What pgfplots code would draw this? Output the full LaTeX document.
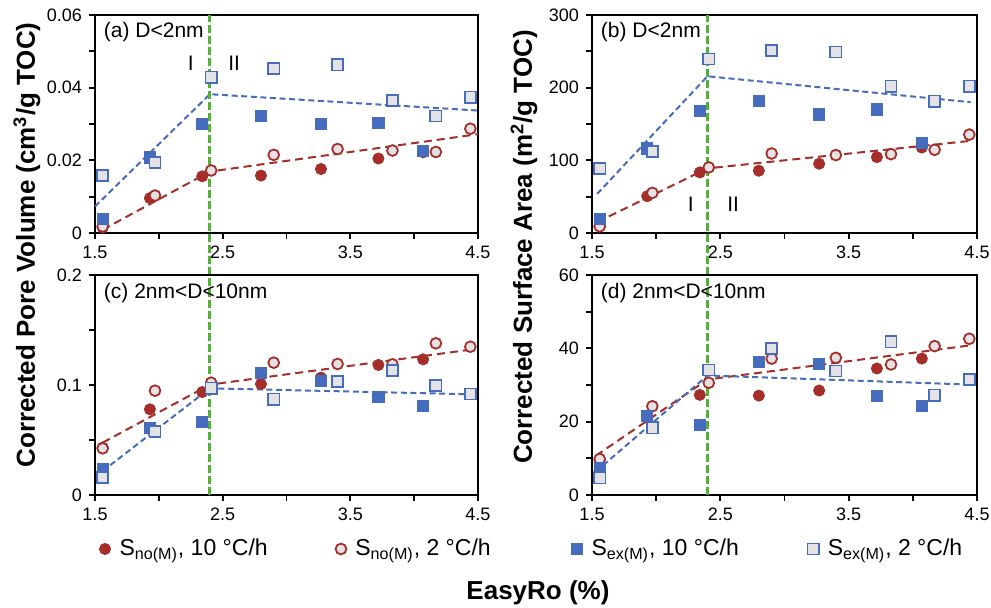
\documentclass[border=0pt]{standalone}
\usepackage{fontspec}
\setmainfont{Liberation Sans}
\usepackage{pgfplots}
\usepackage{pgfplotstable}
\pgfplotsset{compat=1.18}

\definecolor{noRed}{RGB}{166,46,42}
\definecolor{exBlue}{RGB}{70,108,190}
\definecolor{openFill}{RGB}{228,226,228}
\definecolor{stageGreen}{RGB}{82,178,52}

% 10 C/h samples
\pgfplotstableread{
x    a_no   a_ex   b_no  b_ex  c_no   c_ex   d_no d_ex
1.56 0.0015 0.0039 10.0  19.6  0.0430 0.0233 9.5  7.3
1.93 0.0096 0.0208 50.6  116.3 0.0779 0.0612 21.0 21.5
2.34 0.0156 0.0300 83.4  167.8 0.0936 0.0661 27.3 19.2
2.80 0.0158 0.0323 85.7  181.5 0.1009 0.1112 27.1 36.3
3.27 0.0176 0.0300 95.3  163.2 0.1067 0.1039 28.5 35.8
3.72 0.0205 0.0302 104.4 170.1 0.1182 0.0894 34.5 27.1
4.07 0.0222 0.0226 117.6 123.6 0.1233 0.0812 37.2 24.2
}\fastrate

% 2 C/h samples
\pgfplotstableread{
x    a_no   a_ex   b_no  b_ex  c_no   c_ex   d_no d_ex
1.56 0.0018 0.0158 9.1   88.9  0.0424 0.0158 9.8  4.7
1.97 0.0103 0.0194 55.2  112.2 0.0948 0.0576 24.2 18.3
2.41 0.0172 0.0429 90.3  239.4 0.1021 0.0970 30.6 34.1
2.90 0.0215 0.0453 109.4 251.3 0.1203 0.0870 37.2 40.0
3.40 0.0231 0.0463 107.2 249.0 0.1191 0.1030 37.4 33.8
3.83 0.0227 0.0365 108.5 202.0 0.1188 0.1130 35.6 41.8
4.17 0.0223 0.0322 114.5 181.5 0.1379 0.0994 40.6 27.2
4.44 0.0287 0.0374 135.4 202.0 0.1348 0.0918 42.6 31.5
}\slowrate

\tikzset{paneltext/.style={font=\fontsize{10.5}{12}\selectfont}}

\pgfplotsset{
  panel/.style={
    scale only axis,
    xmin=1.5, xmax=4.5,
    xtick={1.5,2.5,3.5,4.5}, minor xtick={2,3,4},
    tick align=outside, xtick pos=bottom, ytick pos=left,
    major tick length=3pt, minor tick length=3pt,
    axis line style={line width=0.9pt},
    every tick/.style={black, line width=0.9pt},
    tick label style={font=\fontsize{9}{10}\selectfont},
    /pgf/number format/assume math mode=true,
    scaled y ticks=false,
    clip=false,
  },
  sno10/.style={only marks, mark=*, mark size=2.8pt, draw=noRed, fill=noRed},
  sno2/.style={only marks, mark=*, mark size=2.7pt, draw=noRed, fill=openFill, mark options={line width=0.9pt}},
  sex10/.style={only marks, mark=square*, mark size=2.8pt, draw=exBlue, fill=exBlue},
  sex2/.style={only marks, mark=square*, mark size=2.8pt, draw=exBlue, fill=openFill, mark options={line width=0.8pt}},
  fitred/.style={noRed, line width=1pt, dash pattern=on 4pt off 2.5pt, forget plot},
  fitblue/.style={exBlue, line width=1pt, dash pattern=on 3pt off 1.8pt, forget plot},
  stage/.style={stageGreen, line width=1.6pt, dash pattern=on 4pt off 1.5pt, forget plot},
}

\begin{document}
\begin{tikzpicture}
\path[use as bounding box] (0,0) rectangle (495.5pt,-304pt);

% (a)
\begin{axis}[panel, at={(47.5pt,-7.5pt)}, anchor=north west,
  width=191.5pt, height=109pt,
  ymin=0, ymax=0.06, ytick={0,0.02,0.04,0.06}, minor ytick={0.01,0.03,0.05},
  yticklabel style={/pgf/number format/fixed, /pgf/number format/precision=2}]
  \addplot[fitblue] coordinates {(1.5,0.0073) (2.4,0.0382) (4.5,0.0337)};
  \addplot[fitred] coordinates {(1.56,0.0009) (2.4,0.0169) (4.5,0.0272)};
  \addplot[sno10] table[x=x,y=a_no] {\fastrate};
  \addplot[sno2] table[x=x,y=a_no] {\slowrate};
  \addplot[sex10] table[x=x,y=a_ex] {\fastrate};
  \addplot[sex2] table[x=x,y=a_ex] {\slowrate};
  \addplot[stage] coordinates {(2.4,-0.0117) (2.4,0.06)};
  \node[paneltext, anchor=west] at (rel axis cs:0.005,0.922) {(a) D<2nm};
  \node[paneltext] at (axis cs:2.25,0.0467) {I};
  \node[paneltext] at (axis cs:2.59,0.0467) {II};
\end{axis}

% (b)
\begin{axis}[panel, at={(296pt,-7.5pt)}, anchor=north west,
  width=192.5pt, height=109pt,
  ymin=0, ymax=300, ytick={0,100,200,300}, minor ytick={50,150,250}]
  \addplot[fitblue] coordinates {(1.54,53.8) (2.4,215.7) (4.45,180)};
  \addplot[fitred] coordinates {(1.54,15) (2.4,88.9) (4.45,126.8)};
  \addplot[sno10] table[x=x,y=b_no] {\fastrate};
  \addplot[sno2] table[x=x,y=b_no] {\slowrate};
  \addplot[sex10] table[x=x,y=b_ex] {\fastrate};
  \addplot[sex2] table[x=x,y=b_ex] {\slowrate};
  \addplot[stage] coordinates {(2.4,-58) (2.4,300)};
  \node[paneltext, anchor=west] at (rel axis cs:0.005,0.922) {(b) D<2nm};
  \node[paneltext] at (axis cs:2.27,40) {I};
  \node[paneltext] at (axis cs:2.60,40) {II};
\end{axis}

% (c)
\begin{axis}[panel, at={(47.5pt,-137.5pt)}, anchor=north west,
  width=191.5pt, height=110pt,
  ymin=0, ymax=0.2, ytick={0,0.1,0.2}, minor ytick={0.05,0.15},
  yticklabel style={/pgf/number format/fixed, /pgf/number format/precision=2},
  legend columns=4,
  legend image code/.code={\draw[mark repeat=2,mark phase=2] plot coordinates {(0cm,0cm) (0.1cm,0cm) (0.2cm,0cm)};},
  legend style={draw=none, fill=none, at={(rel axis cs:0,0)}, anchor=west,
    xshift=-1pt, yshift=-27pt, font=\fontsize{11.5}{13}\selectfont,
    /tikz/every odd column/.append style={column sep=2.5pt},
    /tikz/every even column/.append style={column sep=4pt}}]
  \addplot[fitred] coordinates {(1.56,0.0476) (2.4,0.1003) (4.46,0.1324)};
  \addplot[fitblue] coordinates {(1.56,0.0218) (2.4,0.0970) (4.46,0.0915)};
  \addplot[sno10] table[x=x,y=c_no] {\fastrate};
  \addlegendentry{\makebox[102pt][l]{S\textsubscript{no(M)}, 10 °C/h}}
  \addplot[sno2] table[x=x,y=c_no] {\slowrate};
  \addlegendentry{\makebox[102pt][l]{S\textsubscript{no(M)}, 2 °C/h}}
  \addplot[sex10] table[x=x,y=c_ex] {\fastrate};
  \addlegendentry{\makebox[102pt][l]{S\textsubscript{ex(M)}, 10 °C/h}}
  \addplot[sex2] table[x=x,y=c_ex] {\slowrate};
  \addlegendentry{S\textsubscript{ex(M)}, 2 °C/h}
  \addplot[stage] coordinates {(2.4,0) (2.4,0.2)};
  \node[paneltext, anchor=west] at (rel axis cs:0.005,0.918) {(c) 2nm<D<10nm};
\end{axis}

% (d)
\begin{axis}[panel, at={(296pt,-137.5pt)}, anchor=north west,
  width=192.5pt, height=110pt,
  ymin=0, ymax=60, ytick={0,20,40,60}, minor ytick={10,30,50}]
  \addplot[fitred] coordinates {(1.53,10.7) (2.4,31.5) (4.47,40.9)};
  \addplot[fitblue] coordinates {(1.53,6.4) (2.4,32.6) (4.45,30.1)};
  \addplot[sno10] table[x=x,y=d_no] {\fastrate};
  \addplot[sno2] table[x=x,y=d_no] {\slowrate};
  \addplot[sex10] table[x=x,y=d_ex] {\fastrate};
  \addplot[sex2] table[x=x,y=d_ex] {\slowrate};
  \addplot[stage] coordinates {(2.4,0) (2.4,60)};
  \node[paneltext, anchor=west] at (rel axis cs:0.005,0.918) {(d) 2nm<D<10nm};
\end{axis}

\node[rotate=90, font=\fontsize{13}{15}\selectfont\bfseries] at (13.5pt,-122.5pt)
  {Corrected Pore Volume (cm\textsuperscript{3}/g TOC)};
\node[rotate=90, font=\fontsize{13}{15}\selectfont\bfseries] at (262pt,-123.5pt)
  {Corrected Surface Area (m\textsuperscript{2}/g TOC)};
\node[font=\fontsize{13}{15}\selectfont\bfseries] at (269pt,-296.5pt) {EasyRo (\%)};
\end{tikzpicture}
\end{document}
